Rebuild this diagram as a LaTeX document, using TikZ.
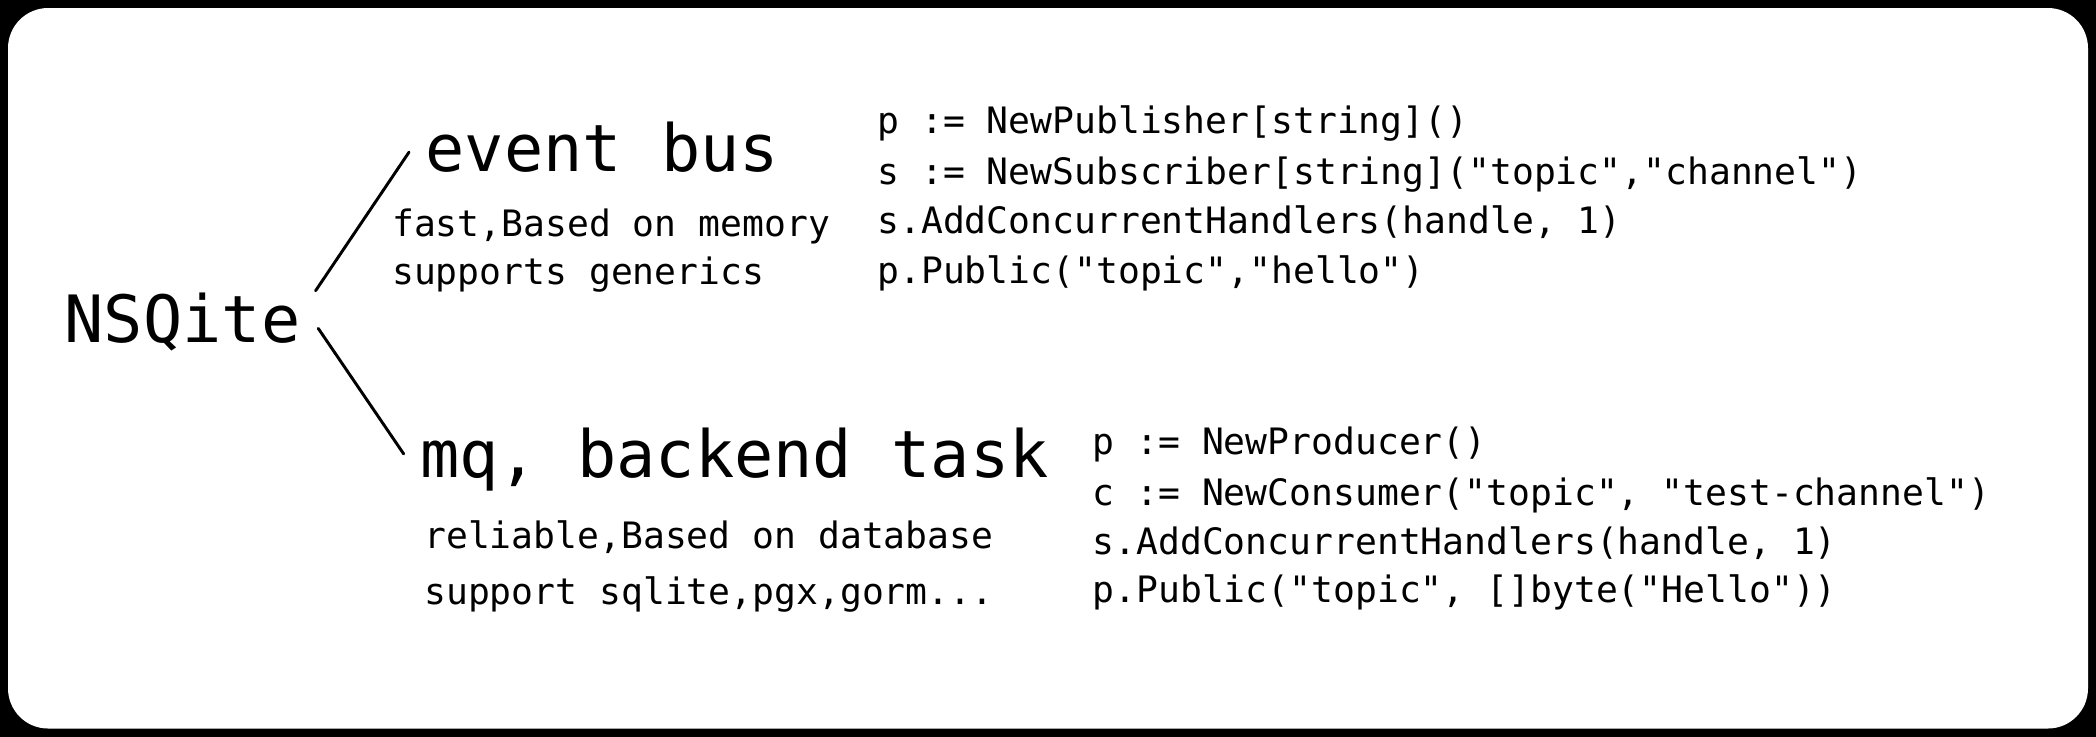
\documentclass[tikz,border=0pt]{standalone}
\usepackage{fontspec}
\setmonofont{DejaVu Sans Mono}
\usetikzlibrary{calc}
\begin{document}
\begin{tikzpicture}[x=0.5pt,y=0.5pt,
  every node/.style={inner sep=0pt,anchor=base west,font=\ttfamily\fontsize{13.6}{16}\selectfont},
  big/.style={font=\ttfamily\fontsize{24.4}{28}\selectfont},
  branch/.style={line width=1.1pt,line cap=round}]
  \fill[black] (0,0) rectangle (1568,551);
  \fill[white,rounded corners=15pt] (6,6) rectangle (1562,545);
  \path (48,295) node[big] (nsq) {NSQite}
  (318,423) node[big] (ebus) {event bus}
  (314,194) node[big] (mq) {mq, backend task};
  \path (293,374) node (ebus1) {fast,Based on memory}
  (293,338) node (ebus2) {supports generics};
  \path (317,141) node (mq1) {reliable,Based on database}
  (317,99) node (mq2) {support sqlite,pgx,gorm...};
  % event bus code
  \path (656,451) node (eb1) {p := NewPublisher[string]()}
  (656,413) node (eb2) {s := NewSubscriber[string]("topic","channel")}
  (656,376) node (eb3) {s.AddConcurrentHandlers(handle, 1)}
  (656,339) node (eb4) {p.Public("topic","hello")};
  % mq code
  \path (817,211) node (mq3) {p := NewProducer()}
  (817,173) node (mq4) {c := NewConsumer("topic", "test-channel")}
  (817,136) node (mq5) {s.AddConcurrentHandlers(handle, 1)}
  (817,100) node (mq6) {p.Public("topic", []byte("Hello"))};
  \draw[branch] ($(nsq.north east)+(11,1)$) -- ($(ebus.west)+(-12,-4)$);
  \draw[branch] ($(nsq.east)+(13,-5)$) -- ($(mq.west)+(-12,4)$);
\end{tikzpicture}
\end{document}
